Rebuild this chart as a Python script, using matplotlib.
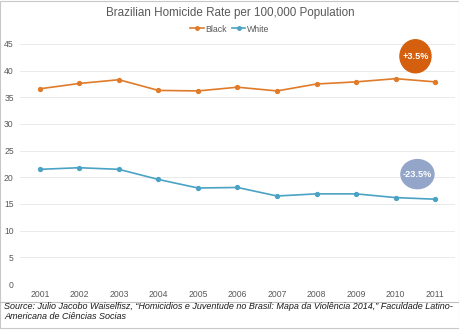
import matplotlib
matplotlib.use("Agg")
import matplotlib.pyplot as plt
from matplotlib.patches import Ellipse, Rectangle
from matplotlib.lines import Line2D

years = ["2001", "2002", "2003", "2004", "2005", "2006", "2007", "2008", "2009", "2010", "2011"]
black_rate = [36.6, 37.6, 38.3, 36.3, 36.2, 36.9, 36.2, 37.5, 37.9, 38.5, 37.9]
white_rate = [21.5, 21.8, 21.5, 19.6, 18.0, 18.1, 16.5, 16.9, 16.9, 16.2, 15.9]
black_change = "+3.5%"
white_change = "-23.5%"

plt.rcParams["font.family"] = ["Liberation Sans", "DejaVu Sans"]

ORANGE = "#e07b2a"
BLUE = "#4aa3c4"
GRAY = "#595959"

fig = plt.figure(figsize=(4.6, 3.31), dpi=100)
ax = fig.add_axes([20 / 460, 1 - 284 / 331, 435 / 460, 240 / 331])

x = list(range(len(years)))
ax.plot(x, black_rate, color=ORANGE, lw=1.2, marker="o", ms=2.8, label="Black")
ax.plot(x, white_rate, color=BLUE, lw=1.2, marker="o", ms=2.8, label="White")

ax.set_xlim(-0.5, len(years) - 0.5)
ax.set_ylim(0, 45)
ax.set_yticks(range(0, 46, 5))
ax.set_xticks(x)
ax.set_xticklabels(years)
ax.tick_params(axis="both", length=0, labelsize=6.2, labelcolor=GRAY)
ax.tick_params(axis="x", pad=4.5)
ax.tick_params(axis="y", pad=4.5)
for s in ax.spines.values():
    s.set_visible(False)
ax.grid(axis="y", color="#e6e6e6", lw=0.6)
ax.axhline(0, color="#d0d0d0", lw=0.7)
ax.set_axisbelow(True)

# change bubbles
ax.add_patch(Ellipse((9.5, 42.7), 31 / 39.5, 33 / 5.33, color="#d4600f", zorder=5, clip_on=False))
ax.text(9.5, 42.7, black_change, ha="center", va="center", color="white",
        fontsize=6.6, fontweight="bold", zorder=6)
ax.add_patch(Ellipse((9.55, 20.6), 33 / 39.5, 29 / 5.33, color="#93a5c9", zorder=5, clip_on=False))
ax.text(9.55, 20.6, white_change, ha="center", va="center", color="white",
        fontsize=6.6, fontweight="bold", zorder=6)

fig.text(0.5, 1 - 13 / 331, "Brazilian Homicide Rate per 100,000 Population",
         ha="center", va="center", fontsize=8.4, color=GRAY)
handles = [Line2D([], [], color=ORANGE, lw=1.2, marker="o", ms=2.5),
           Line2D([], [], color=BLUE, lw=1.2, marker="o", ms=2.5)]
fig.legend(handles, ["Black", "White"], loc="center", bbox_to_anchor=(230 / 460, 1 - 29 / 331),
           ncol=2, frameon=False, fontsize=6.3, handlelength=1.5, handletextpad=0.2,
           columnspacing=0.6, labelcolor=GRAY)

# source box
fig.add_artist(Line2D([0, 1], [1 - 302 / 331, 1 - 302 / 331], color="#bfbfbf", lw=0.8))
fig.add_artist(Rectangle((0.001, 1 - 328 / 331), 0.997, 327 / 331, fill=False,
                         edgecolor="#c8c8c8", lw=0.8))
fig.text(4 / 460, 1 - 311.5 / 331,
         "Source: Julio Jacobo Waiselfisz, \u201cHomicidios e Juventude no Brasil: Mapa da Viol\u00eancia 2014,\u201d Faculdade Latino-\nAmericana de Ci\u00eancias Socias",
         ha="left", va="center", fontsize=6.5, style="italic", color="#1a1a1a", linespacing=1.1)

fig.savefig("out.png", dpi=100)
